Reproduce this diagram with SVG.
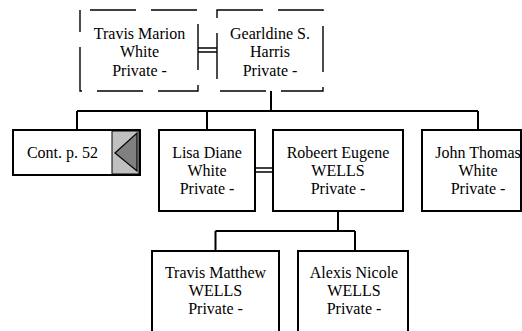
<svg xmlns="http://www.w3.org/2000/svg" width="522" height="331" viewBox="0 0 522 331">
<style>
.box{fill:#fff;stroke:#000;stroke-width:2}
.dbox{fill:#fff;stroke:#000;stroke-width:1.4;stroke-dasharray:46 15}
.ln{fill:none;stroke:#000;stroke-width:2}
.dbl{fill:none;stroke:#000;stroke-width:1.3}
.t{font-family:'Liberation Serif','DejaVu Serif',serif;font-size:16px;fill:#000;text-anchor:middle}
</style>
<rect width="522" height="331" fill="#fff"/>
<g id="connectors">
<path class="dbl" d="M198 48H217M198 52H217"/>
<path class="ln" d="M271 91V111M77 111H478M77 111V130M207 111V130M478 111V130"/>
<path class="dbl" d="M255 168H273M255 172H273"/>
<path class="ln" d="M338 211V231M215.5 231H355M215.5 231V251M355 231V251"/>
</g>
<g id="travis-marion">
<rect class="dbox" x="80" y="10" width="118" height="81" stroke-dashoffset="51"/>
<g class="t" font-family="Liberation Serif, serif">
<text x="139.5" y="38.5">Travis Marion</text>
<text x="139.5" y="57">White</text>
<text x="139.5" y="75.5">Private -</text>
</g>
</g>
<g id="gearldine">
<rect class="dbox" x="217" y="10" width="106" height="81"/>
<g class="t" font-family="Liberation Serif, serif">
<text x="270" y="38.5">Gearldine S.</text>
<text x="270" y="57">Harris</text>
<text x="270" y="75.5">Private -</text>
</g>
</g>
<g id="cont">
<rect class="box" x="13" y="130" width="127" height="45"/>
<rect x="112" y="131" width="27" height="43" fill="#c0c0c0" stroke="#000" stroke-width="1"/>
<polygon points="115,153 137,133 137,171" fill="#808080" stroke="#000" stroke-width="1.2"/>
<text class="t" font-family="Liberation Serif, serif" x="62.5" y="158">Cont. p. 52</text>
</g>
<g id="lisa">
<rect class="box" x="159" y="130" width="96" height="81"/>
<g class="t" font-family="Liberation Serif, serif">
<text x="207" y="158">Lisa Diane</text>
<text x="207" y="176">White</text>
<text x="207" y="194">Private -</text>
</g>
</g>
<g id="robeert">
<rect class="box" x="273" y="130" width="130" height="81"/>
<g class="t" font-family="Liberation Serif, serif">
<text x="338" y="158">Robeert Eugene</text>
<text x="338" y="176">WELLS</text>
<text x="338" y="194">Private -</text>
</g>
</g>
<g id="john">
<rect class="box" x="422" y="130" width="99" height="81"/>
<g class="t" font-family="Liberation Serif, serif">
<text x="478" y="158">John Thomas</text>
<text x="478" y="176">White</text>
<text x="478" y="194">Private -</text>
</g>
</g>
<g id="travis-matthew">
<rect class="box" x="152" y="251" width="127" height="81"/>
<g class="t" font-family="Liberation Serif, serif">
<text x="215.5" y="277.5">Travis Matthew</text>
<text x="215.5" y="296">WELLS</text>
<text x="215.5" y="314">Private -</text>
</g>
</g>
<g id="alexis">
<rect class="box" x="298" y="251" width="110" height="81"/>
<g class="t" font-family="Liberation Serif, serif">
<text x="354" y="277.5">Alexis Nicole</text>
<text x="354" y="296">WELLS</text>
<text x="354" y="314">Private -</text>
</g>
</g>
</svg>
